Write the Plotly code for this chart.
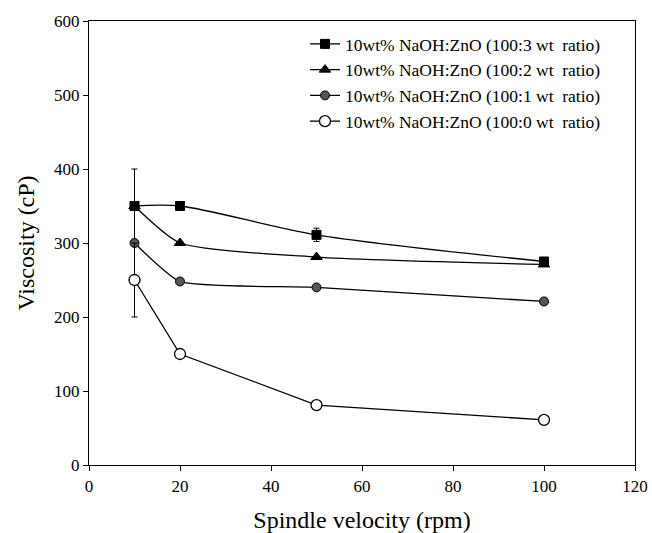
import plotly.graph_objects as go

x_rpm = [10, 20, 50, 100]
names = [
    "10wt% NaOH:ZnO (100:3 wt\u00a0 ratio)",
    "10wt% NaOH:ZnO (100:2 wt\u00a0 ratio)",
    "10wt% NaOH:ZnO (100:1 wt\u00a0 ratio)",
    "10wt% NaOH:ZnO (100:0 wt\u00a0 ratio)",
]
visc_3 = [350, 350, 311, 275]
err_3 = [50, 0, 9, 3]
visc_2 = [350, 300, 281, 271]
err_2 = [0, 0, 0, 0]
visc_1 = [300, 248, 240, 221]
err_1 = [0, 0, 0, 0]
visc_0 = [250, 150, 81, 61]
err_0 = [50, 0, 0, 0]

series = [
    (visc_3, err_3, 0.8, dict(symbol="square", size=9, color="black", line=dict(color="black", width=1))),
    (visc_2, err_2, 0.6, dict(symbol="triangle-up", size=10, color="black", line=dict(color="black", width=1))),
    (visc_1, err_1, 0.5, dict(symbol="circle", size=9, color="#555555", line=dict(color="black", width=1))),
    (visc_0, err_0, 0.0, dict(symbol="circle", size=11, color="white", line=dict(color="black", width=1.3))),
]

font = "Liberation Serif"
fig = go.Figure()
for (vals, errs, sm, marker), name in zip(series, names):
    line = dict(color="black", width=1.3)
    if sm > 0:
        line.update(shape="spline", smoothing=sm)
    fig.add_trace(go.Scatter(
        x=x_rpm, y=vals, name=name, mode="lines+markers",
        line=line, marker=marker,
        error_y=dict(type="data", array=errs, visible=True, color="black", thickness=1, width=3),
    ))

axis_common = dict(
    showline=True, linecolor="black", linewidth=1.3, mirror=True,
    ticks="outside", ticklen=5, tickcolor="black", tickwidth=1,
    showgrid=False, zeroline=False, automargin=False,
    tickfont=dict(family=font, size=17, color="black"),
)
fig.update_xaxes(range=[0, 120], tickvals=[0, 20, 40, 60, 80, 100, 120],
                 title=dict(text="Spindle velocity (rpm)", font=dict(family=font, size=24, color="black"), standoff=16),
                 **axis_common)
fig.update_yaxes(range=[0, 600], tickvals=[0, 100, 200, 300, 400, 500, 600],
                 title=dict(text="Viscosity (cP)", font=dict(family=font, size=24, color="black"), standoff=12),
                 **axis_common)

fig.update_layout(
    width=652, height=533,
    margin=dict(l=89, r=17, t=21, b=68, autoexpand=False),
    paper_bgcolor="white", plot_bgcolor="white",
    font=dict(family=font, size=16, color="black"),
    legend=dict(x=(305 - 89) / 546, y=(444 - 5) / 444, xanchor="left", yanchor="top",
                bgcolor="rgba(0,0,0,0)", font=dict(family=font, size=17.5, color="black"),
                tracegroupgap=0, itemwidth=30),
    showlegend=True,
)
fig.write_html("out.html", config={"displayModeBar": False},
               post_script="document.body.style.margin='0px';document.body.style.overflow='hidden';")
